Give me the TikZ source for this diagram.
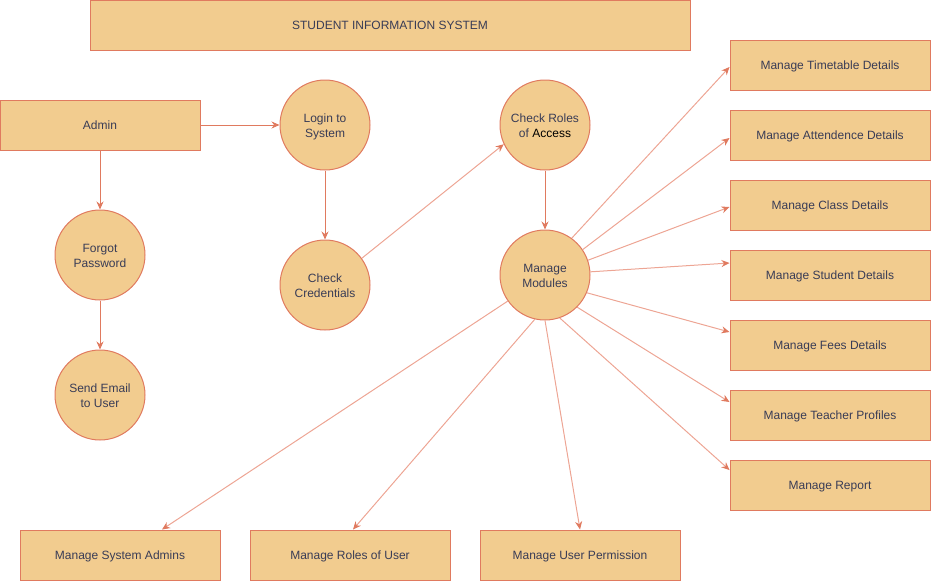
\documentclass[tikz,border=0pt]{standalone}
\usepackage{fontspec}
\setmainfont{Liberation Sans}
\usetikzlibrary{arrows.meta}

\definecolor{boxfill}{HTML}{F2CC8F}
\definecolor{boxline}{HTML}{E07A5F}
\definecolor{faint}{HTML}{EDA594}
\definecolor{txt}{HTML}{393C56}

\tikzset{
  box/.style={draw=boxline, fill=boxfill, line width=1pt, minimum width=200pt, minimum height=50pt,
    inner sep=0pt, text=txt, text height=9.6pt, text depth=0pt, font=\fontsize{12}{15}\selectfont},
  proc/.style={circle, draw=boxline, fill=boxfill, line width=1pt, minimum size=90pt,
    inner sep=0pt, align=center, text=txt, text height=24.6pt, text depth=0pt,
    font=\fontsize{12}{15}\selectfont},
  flow/.style={color=boxline, line width=1pt, -{Stealth[length=8pt,width=7pt]}},
  fan/.style={color=faint, line width=1pt, -{Stealth[length=8pt,width=7pt,color=boxline]}},
}

\begin{document}
\begin{tikzpicture}[x=1pt, y=-1pt]
  \useasboundingbox (0,0) rectangle (931,581);

  \node[box, minimum width=600pt] (title) at (390,25) {STUDENT INFORMATION SYSTEM};

  \node[box]  (admin)  at (100,125) {Admin};
  \node[proc] (login)  at (325,125) {Login to\\System};
  \node[proc] (forgot) at (100,255) {Forgot\\Password};
  \node[proc] (email)  at (100,395) {Send Email\\to User};
  \node[proc] (cred)   at (325,285) {Check\\Credentials};
  \node[proc] (roles)  at (545,125) {Check Roles\\of {\color{black}Access}};
  \node[proc] (mods)   at (545,275) {Manage\\Modules};

  % modules on the right
  \node[box] (tt)    at (830,65)  {Manage Timetable Details};
  \node[box] (att)   at (830,135) {Manage Attendence Details};
  \node[box] (cls)   at (830,205) {Manage Class Details};
  \node[box] (stu)   at (830,275) {Manage Student Details};
  \node[box] (fees)  at (830,345) {Manage Fees Details};
  \node[box] (teach) at (830,415) {Manage Teacher Profiles};
  \node[box] (rep)   at (830,485) {Manage Report};

  % modules below
  \node[box] (sysad) at (120,555) {Manage System Admins};
  \node[box] (usrro) at (350,555) {Manage Roles of User};
  \node[box] (perm)  at (580,555) {Manage User Permission};

  \path[flow]
    (admin) edge (login)
    (admin) edge (forgot)
    (forgot) edge (email)
    (login) edge (cred)
    (roles) edge (mods);

  \path[fan]
    (cred.36) edge (roles.205)
    (mods.54)  edge ([yshift=-2pt]tt.west)
    (mods.34)  edge ([yshift=-3pt]att.west)
    (mods.19)  edge ([yshift=-2pt]cls.west)
    (mods.4)   edge ([yshift=12pt]stu.west)
    (mods.-23) edge ([yshift=13pt]fees.west)
    (mods.-45) edge ([yshift=13pt]teach.west)
    (mods.-71) edge ([yshift=15pt]rep.west)
    (mods.215) edge ([xshift=42pt]sysad.north)
    (mods.257) edge ([xshift=3pt]usrro.north)
    (mods.270) edge (perm.north);
\end{tikzpicture}
\end{document}
